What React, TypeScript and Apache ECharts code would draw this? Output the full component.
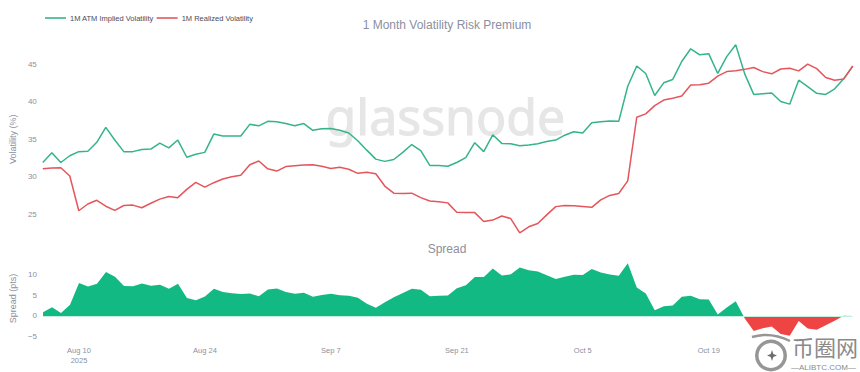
import React, { useEffect, useRef } from "react";
import * as echarts from "echarts";

const startDate = new Date(Date.UTC(2025, 7, 6));
const MONTHS = ["Jan","Feb","Mar","Apr","May","Jun","Jul","Aug","Sep","Oct","Nov","Dec"];

const impliedVol = [31.9,33.2,31.9,32.8,33.35,33.4,34.6,36.6,34.9,33.35,33.35,33.65,33.7,34.5,33.85,34.9,32.6,33.0,33.25,35.7,35.45,35.45,35.45,37.0,36.8,37.4,37.35,37.1,36.8,37.1,36.2,36.4,36.45,36.2,35.85,34.8,33.55,32.35,32.05,32.3,33.25,34.3,33.5,31.5,31.5,31.4,31.9,32.55,34.55,33.35,35.6,34.45,34.4,34.15,34.25,34.4,34.7,34.9,35.55,36.0,35.85,37.2,37.35,37.45,37.4,42.1,44.8,43.8,40.85,42.55,43.0,45.4,47.1,46.3,46.45,43.8,46.05,47.65,43.75,41.0,41.1,41.2,40.05,39.7,42.9,42.05,41.15,41.0,41.75,43.1,44.75];
const realizedVol = [31.05,31.15,31.2,30.1,25.45,26.35,26.85,26.05,25.5,26.15,26.2,25.85,26.45,27.0,27.35,27.2,28.3,29.25,28.6,29.2,29.7,30.0,30.2,31.6,32.1,31.05,30.75,31.35,31.45,31.55,31.6,31.4,31.1,31.25,31.0,30.45,30.6,30.4,28.75,27.8,27.75,27.8,27.2,26.75,26.65,26.5,25.25,25.2,25.2,24.0,24.2,24.75,24.4,22.5,23.3,23.75,24.9,26.0,26.15,26.1,26.0,25.9,26.9,27.5,27.75,29.45,37.95,38.4,39.5,40.25,40.5,40.8,42.25,42.3,42.5,43.45,44.05,44.15,44.35,44.6,44.05,43.75,44.4,44.5,44.15,45.05,44.45,43.25,42.9,43.05,44.8];
const spread = [0.85,2.05,0.7,2.7,7.9,7.05,7.75,10.55,9.4,7.2,7.15,7.8,7.25,7.5,6.5,7.7,4.3,3.75,4.65,6.5,5.75,5.45,5.25,5.4,4.7,6.35,6.6,5.75,5.35,5.55,4.6,5.0,5.35,4.95,4.85,4.35,2.95,1.95,3.3,4.5,5.5,6.5,6.3,4.75,4.85,4.9,6.65,7.35,9.35,9.35,11.4,9.7,10.0,11.65,10.95,10.65,9.8,8.9,9.4,9.9,9.85,11.3,10.45,9.95,9.65,12.65,6.85,5.4,1.35,2.3,2.5,4.6,4.85,4.0,3.95,0.35,2.0,3.5,-0.6,-3.6,-2.95,-2.55,-4.35,-4.8,-1.25,-3.0,-3.3,-2.25,-1.15,0.05,-0.05];

const dates = impliedVol.map((_, i) => {
  const d = new Date(startDate.getTime() + i * 86400000);
  return `${MONTHS[d.getUTCMonth()]} ${d.getUTCDate()}`;
});
const dateTicks = ["Aug 10", "Aug 24", "Sep 7", "Sep 21", "Oct 5", "Oct 19"];
const volTicks = [25, 30, 35, 40, 45];
const spreadTicks = [-5, 0, 5, 10];

const LABEL = "#8b8f9f";
const FONT = "'Liberation Sans', Arial, sans-serif";

export default function App() {
  const ref = useRef<HTMLDivElement>(null);
  useEffect(() => {
    if (!ref.current) return;
    const chart = echarts.init(ref.current, undefined, { renderer: "svg" });
    chart.setOption({
      animation: false,
      backgroundColor: "#fff",
      textStyle: { fontFamily: FONT },
      title: [
        { text: "1 Month Volatility Risk Premium", left: 447, top: 19, padding: 0, textAlign: "center", textStyle: { fontSize: 12, fontWeight: "normal", color: LABEL, fontFamily: FONT } },
        { text: "Spread", left: 447, top: 243, padding: 0, textAlign: "center", textStyle: { fontSize: 12, fontWeight: "normal", color: LABEL, fontFamily: FONT } },
      ],
      legend: {
        left: 45, top: 14, padding: 0, itemWidth: 21, itemHeight: 1.6, itemGap: 3, icon: "rect",
        data: ["1M ATM Implied Volatility", "1M Realized Volatility"],
        textStyle: { fontSize: 7.5, color: "#474c5c", padding: [0, 0, 0, -1] },
      },
      grid: [
        { left: 41.5, right: 7.3, top: 27.1, height: 224.4 },
        { left: 41.5, right: 7.3, top: 232.7, height: 124.8 },
      ],
      xAxis: [
        { type: "category", gridIndex: 0, data: dates, boundaryGap: false, axisLine: { show: false }, axisTick: { show: false }, axisLabel: { show: false }, splitLine: { show: false } },
        {
          type: "category", gridIndex: 1, data: dates, boundaryGap: false,
          axisLine: { show: false }, axisTick: { show: false }, splitLine: { show: false },
          axisLabel: {
            color: LABEL, fontSize: 7.5, margin: -12, lineHeight: 10,
            interval: (_: number, v: string) => dateTicks.includes(v),
            formatter: (v: string) => (v === "Aug 10" ? "Aug 10\n2025" : v),
          },
        },
      ],
      yAxis: [
        {
          type: "value", gridIndex: 0, min: 20, max: 50, interval: 5,
          axisLine: { show: false }, axisTick: { show: false }, splitLine: { show: false },
          axisLabel: { color: LABEL, fontSize: 8, margin: 6, formatter: (v: number) => (volTicks.includes(v) ? String(v) : "") },
          name: "Volatility (%)", nameLocation: "middle", nameGap: 23, nameTextStyle: { color: LABEL, fontSize: 9 },
        },
        {
          type: "value", gridIndex: 1, min: -10, max: 20, interval: 5,
          axisLine: { show: false }, axisTick: { show: false }, splitLine: { show: false },
          axisLabel: { color: LABEL, fontSize: 8, margin: 6, formatter: (v: number) => (spreadTicks.includes(v) ? (v < 0 ? "\u2212" + -v : String(v)) : "") },
          name: "Spread (pts)", nameLocation: "middle", nameGap: 23, nameTextStyle: { color: LABEL, fontSize: 9, padding: [0, 7, 0, 0] },
        },
      ],
      visualMap: {
        show: false, type: "piecewise", seriesIndex: 2, dimension: 1,
        pieces: [{ gte: -100, lt: 0, color: "#ef4444" }, { gte: 0, lte: 100, color: "#13b983" }],
      },
      series: [
        { name: "1M ATM Implied Volatility", type: "line", xAxisIndex: 0, yAxisIndex: 0, data: impliedVol, showSymbol: false, color: "#35b48b", lineStyle: { width: 1.5, color: "#35b48b" }, z: 3 },
        { name: "1M Realized Volatility", type: "line", xAxisIndex: 0, yAxisIndex: 0, data: realizedVol, showSymbol: false, color: "#e4565b", lineStyle: { width: 1.5, color: "#e4565b" }, z: 4 },
        {
          name: "Spread", type: "line", xAxisIndex: 1, yAxisIndex: 1, data: spread, showSymbol: false,
          lineStyle: { width: 0 }, areaStyle: { opacity: 1 }, z: 3,
          markLine: { silent: true, symbol: "none", label: { show: false }, lineStyle: { color: "#c4efe0", width: 1, type: "solid" }, data: [{ yAxis: 0 }] },
        },
      ],
      graphic: [
        { type: "text", z: 0, left: 325, top: 90, style: { text: "glassnode", fontSize: 50, fontFamily: "'Noto Sans', sans-serif", fill: "#e6e6e6", stroke: "#e6e6e6", lineWidth: 1 } },
        { type: "ring", z: 20, shape: { cx: 771, cy: 355.5, r: 16, r0: 12.5 }, style: { fill: "#969696" } },
        { type: "bezierCurve", z: 20, shape: { x1: 752, y1: 337, cpx1: 765, cpy1: 333, cpx2: 778, cpy2: 335, x2: 790, y2: 341 }, style: { stroke: "#969696", lineWidth: 2.5, fill: "none" } },
        { type: "polygon", z: 20, shape: { points: [[772, 350], [773.3, 354], [777, 355.5], [773.3, 357], [772, 361], [770.7, 357], [767, 355.5], [770.7, 354]] }, style: { fill: "#6d6d6d" } },
        { type: "text", z: 20, left: 792, top: 335, style: { text: "币圈网", fontSize: 22, fontFamily: "'Noto Sans CJK SC', sans-serif", fill: "#8a8a8a" } },
        { type: "text", z: 20, left: 791, top: 363, style: { text: "—ALIBTC.COM—", fontSize: 8, fontFamily: FONT, fill: "#8a8a8a" } },
      ],
    });
    return () => chart.dispose();
  }, []);
  return <div ref={ref} style={{ position: "absolute", left: 0, top: 0, width: 860, height: 372 }} />;
}
